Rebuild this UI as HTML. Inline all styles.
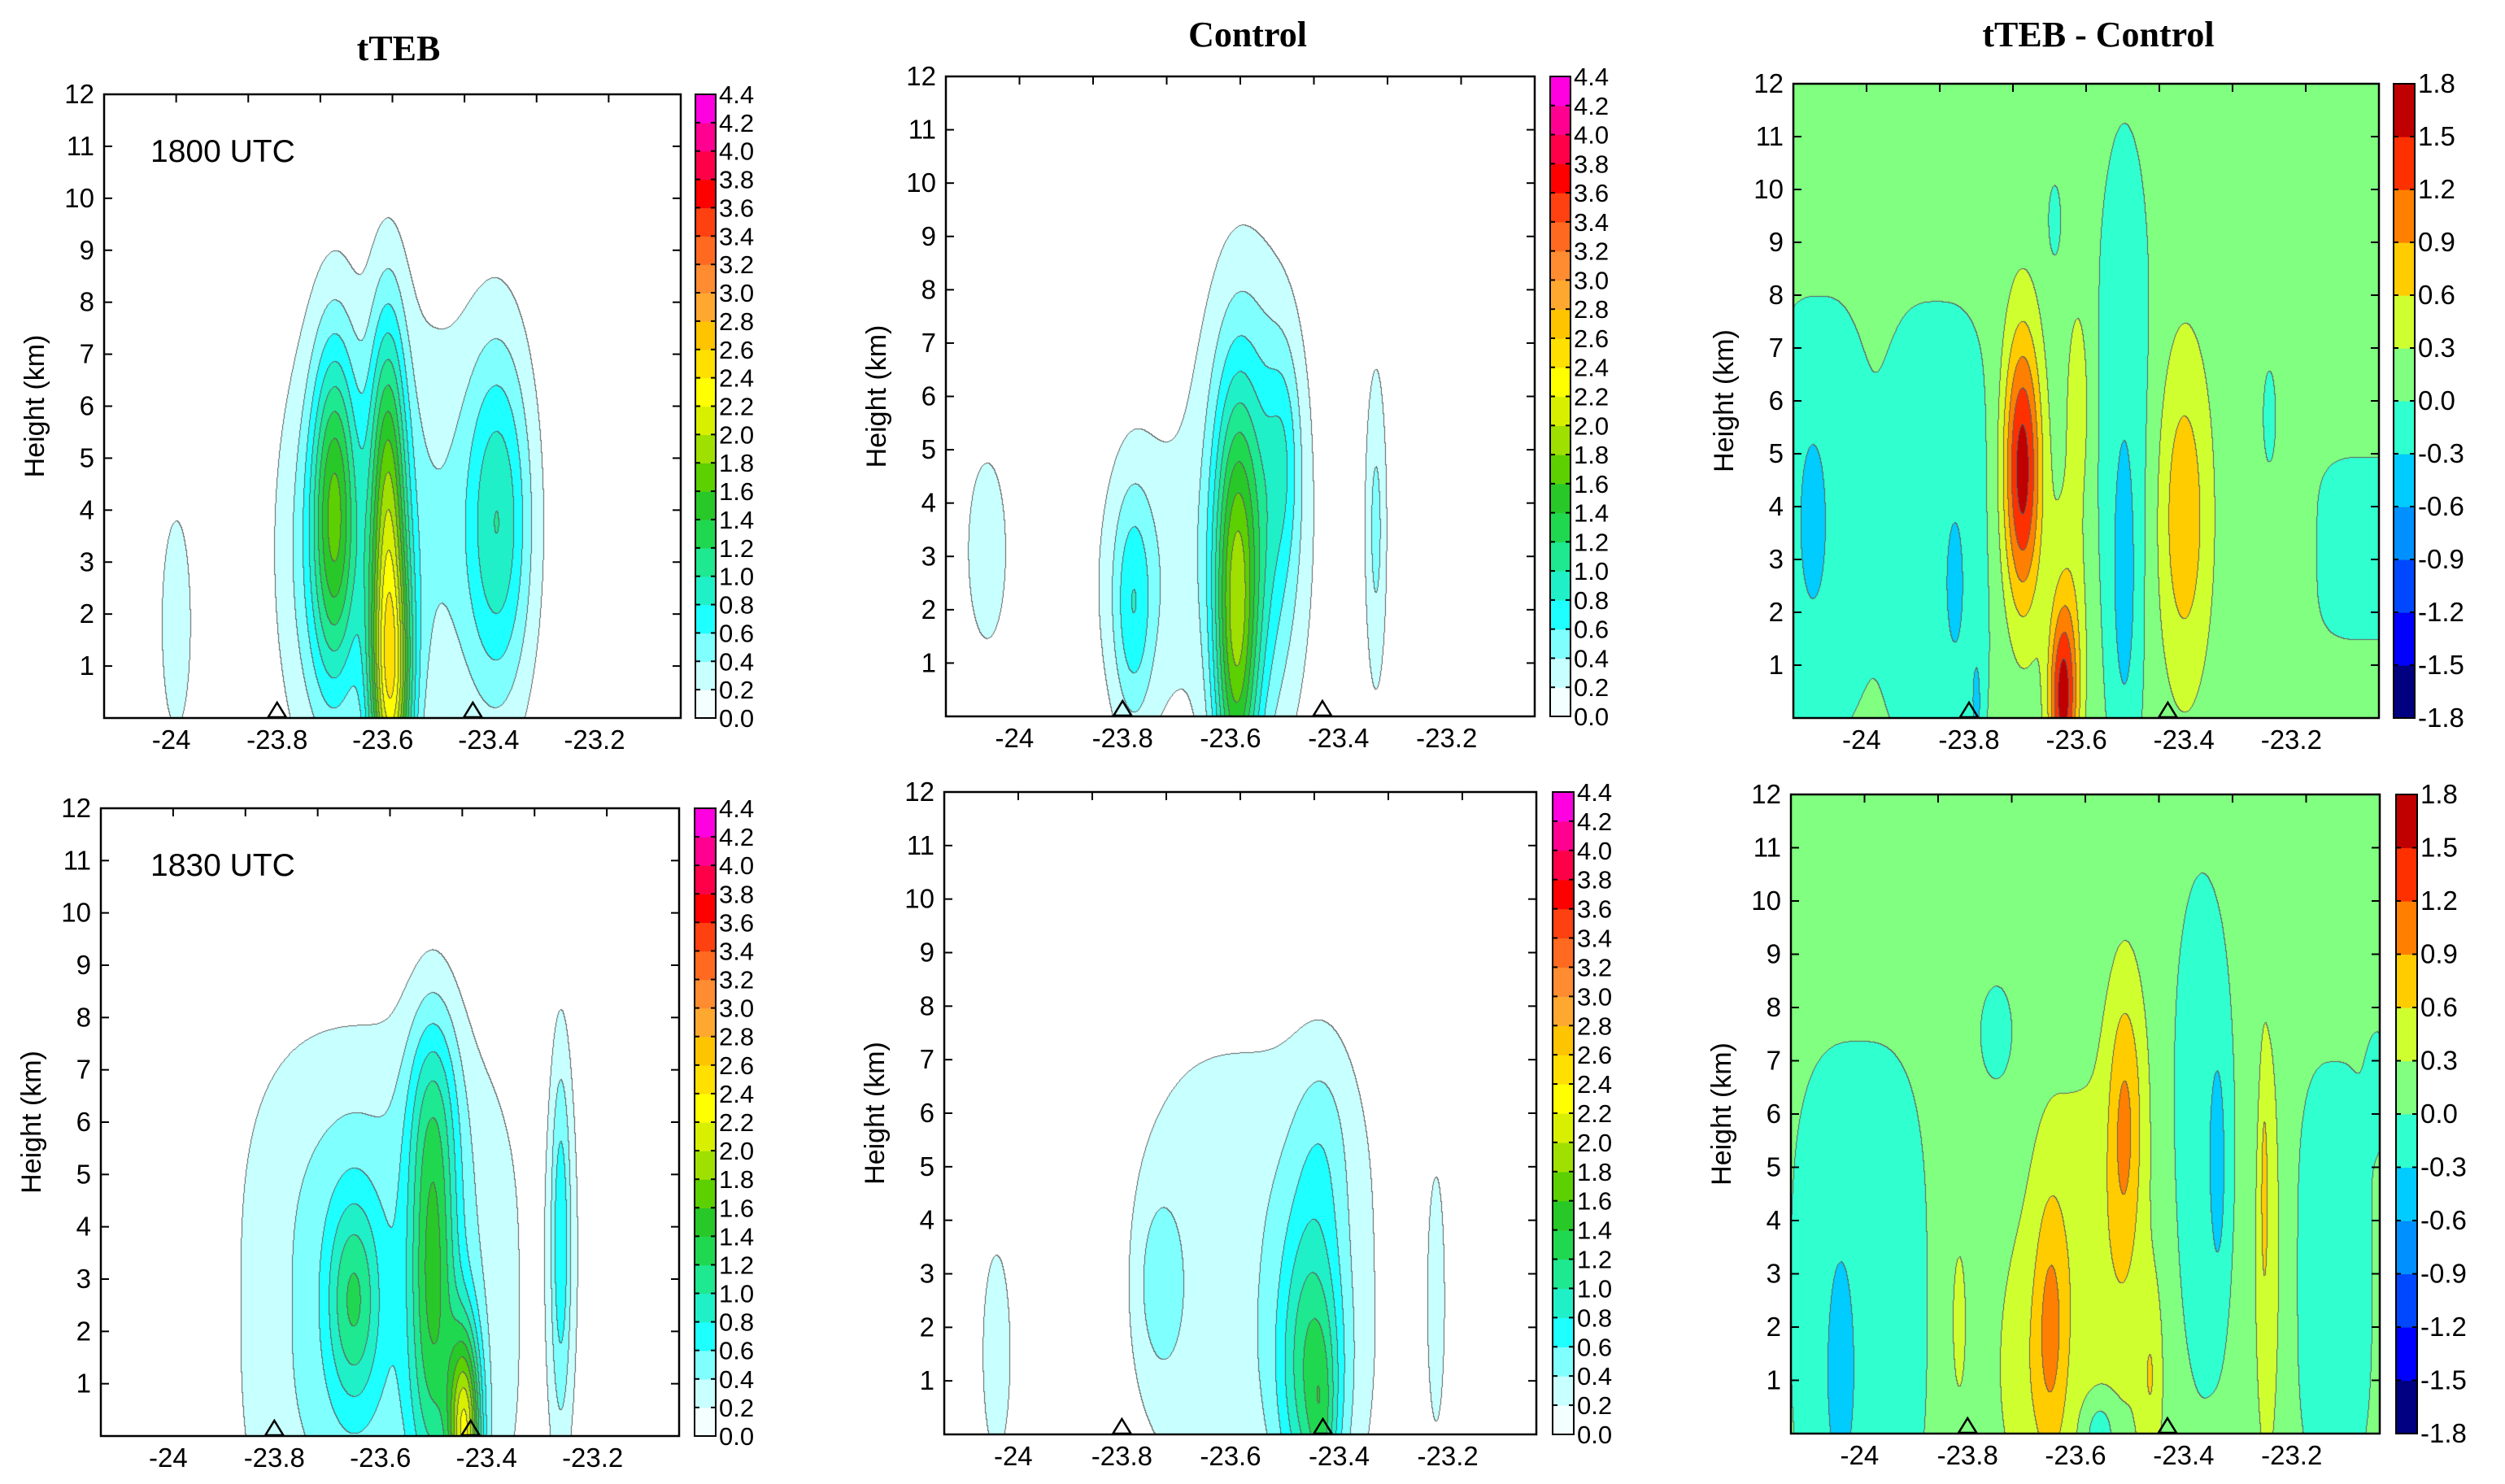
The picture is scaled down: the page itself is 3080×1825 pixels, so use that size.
<!DOCTYPE html>
<html><head><meta charset="utf-8"><style>
body{margin:0;width:3080px;height:1825px;background:#fff;position:relative;overflow:hidden;font-family:"Liberation Sans",sans-serif}
canvas{position:absolute}
svg{position:absolute;left:0;top:0}
</style></head><body>
<div id="fields"></div>
<svg id="ov" width="3080" height="1825"></svg>
<script>
// ---- axis data ----
const xTicks=[-24,-23.8,-23.6,-23.4,-23.2];
const yTicks=[1,2,3,4,5,6,7,8,9,10,11,12];
const stations=[-23.8,-23.43];
const concLevels=[0,0.2,0.4,0.6,0.8,1.0,1.2,1.4,1.6,1.8,2.0,2.2,2.4,2.6,2.8,3.0,3.2,3.4,3.6,3.8,4.0,4.2,4.4];
const concColors=['#f4ffff','#c8ffff','#80ffff','#1effff','#20f0c8','#1ee890','#20d850','#28c828','#5cd000','#a0e000','#d8f000','#ffff00','#ffe000','#ffc400','#ffa830','#ff8c30','#ff6a20','#ff4010','#ff0000','#ff0048','#ff0090','#ff00e0'];
const diffLevels=[-1.8,-1.5,-1.2,-0.9,-0.6,-0.3,0.0,0.3,0.6,0.9,1.2,1.5,1.8];
const diffColors=['#000080','#0000ff','#0048ff','#0090ff','#00ccff','#30ffd0','#80ff80','#d0ff30','#ffcc00','#ff8000','#ff3000','#c00000'];
// ---- field features: [lon, height km, lon width, height width, amplitude, shape] ----
const tteb1800=[[-23.99,1.8,0.035,2.6,0.35,2],[-23.56,3.5,0.2,4.6,0.45,2],[-23.73,3,0.07,4,0.3,2],[-23.69,4.0,0.042,3.2,1.2,2],[-23.585,0.5,0.04,2.8,1.85,2],[-23.59,4.5,0.035,3.4,1.2,2],[-23.38,3.8,0.062,3.5,0.8,2]];
const control1800=[[-24.05,3.1,0.05,2.4,0.32,2],[-23.78,2.0,0.035,2.2,0.45,2],[-23.77,2.5,0.09,3.0,0.35,2],[-23.59,1.5,0.04,4.0,1.3,2],[-23.55,3.5,0.08,4.0,0.6,2],[-23.58,4,0.12,5,0.3,2],[-23.5,5,0.03,2,0.3,2],[-23.33,3.5,0.022,3.3,0.45,2]];
const diff1800=[[-24.08,3.8,0.09,4.2,-0.32,3],[-23.86,3.5,0.11,4.5,-0.3,3],[-24.09,3.7,0.02,1.3,-0.4,2],[-23.825,2.5,0.015,1.2,-0.35,2],[-23.785,0.2,0.012,1.2,-0.35,2],[-23.70,4.7,0.035,2.6,1.55,2],[-23.595,6,0.025,2.2,0.35,2],[-23.625,0.3,0.025,1.6,1.2,2],[-23.615,1.5,0.035,2.5,0.5,2],[-23.51,5.5,0.06,6,-0.3,2],[-23.51,2.2,0.025,3,-0.35,2],[-23.40,3.8,0.05,3.2,0.7,2],[-23.05,3.2,0.1,1.7,-0.35,4],[-23.24,5.7,0.012,0.9,-0.3,2],[-23.64,9.4,0.012,0.7,-0.3,2]];
const tteb1830=[[-23.6,2.5,0.27,5.5,0.5,3],[-23.65,2.6,0.05,2.0,0.75,2],[-23.5,3.0,0.045,4.0,1.0,2],[-23.44,0.0,0.03,2.0,1.8,2],[-23.26,3.8,0.018,3.5,0.5,2],[-23.25,3.5,0.035,4.5,0.22,2],[-23.5,6.5,0.05,2,0.3,2]];
const control1830=[[-24.03,1.5,0.035,2.6,0.33,2],[-23.55,3.0,0.25,5,0.35,3],[-23.73,2.8,0.04,1.6,0.35,2],[-23.45,1.2,0.06,3.0,0.9,2],[-23.43,0,0.025,1.8,0.35,2],[-23.43,5.5,0.05,2,0.2,2],[-23.22,2.5,0.02,3,0.3,2]];
const diff1830=[[-24.0,2.5,0.13,5,-0.3,3],[-24.035,1.0,0.025,2.2,-0.35,2],[-23.815,2.1,0.012,1.3,0.45,2],[-23.745,7.5,0.03,0.9,-0.35,2],[-23.58,3.0,0.12,4.2,0.35,2],[-23.69,1.0,0.06,2.5,0.25,2],[-23.645,2.0,0.03,2.6,0.55,2],[-23.51,5.5,0.03,2.8,0.5,2],[-23.5,6.5,0.04,2.5,0.25,2],[-23.46,1.0,0.022,1.8,0.4,2],[-23.555,0,0.03,0.7,-0.5,2],[-23.365,5.5,0.06,5,-0.33,2],[-23.335,5,0.015,2.2,-0.35,2],[-23.245,3.5,0.028,5,0.35,2],[-23.25,4.6,0.006,1.8,0.35,2],[-23.12,3,0.07,4,-0.32,3],[-23.04,6.5,0.02,1,-0.3,2]];

const XMIN=-24.127,XMAX=-23.037,ZMAX=12;
const panels=[
 {name:'tteb-1800',L:128,R:837,T:116,B:883,cbL:855,cbR:880,kind:'conc',blobs:tteb1800,bg:0,label:'1800 UTC'},
 {name:'control-1800',L:1163,R:1887,T:94,B:881,cbL:1906,cbR:1931,kind:'conc',blobs:control1800,bg:0},
 {name:'diff-1800',L:2205,R:2925,T:103,B:883,cbL:2943,cbR:2969,kind:'diff',blobs:diff1800,bg:0.12},
 {name:'tteb-1830',L:124,R:835,T:994,B:1766,cbL:854,cbR:880,kind:'conc',blobs:tteb1830,bg:0,label:'1830 UTC'},
 {name:'control-1830',L:1161,R:1889,T:974,B:1764,cbL:1909,cbR:1935,kind:'conc',blobs:control1830,bg:0},
 {name:'diff-1830',L:2202,R:2926,T:977,B:1763,cbL:2946,cbR:2972,kind:'diff',blobs:diff1830,bg:0.12}
];
const titles=[['tTEB',490,74],['Control',1534,57],['tTEB - Control',2580,57]];

function xS(p,lon){return p.L+(lon-XMIN)/(XMAX-XMIN)*(p.R-p.L);}
function yS(p,z){return p.B-z/ZMAX*(p.B-p.T);}
function hex(c){return [parseInt(c.substr(1,2),16),parseInt(c.substr(3,2),16),parseInt(c.substr(5,2),16)];}
const NS='http://www.w3.org/2000/svg';
const ov=document.getElementById('ov');
function el(tag,attrs,parent,txt){const e=document.createElementNS(NS,tag);for(const k in attrs)e.setAttribute(k,attrs[k]);if(txt!==undefined)e.textContent=txt;(parent||ov).appendChild(e);return e;}

function render(p){
  const W=p.R-p.L,H=p.B-p.T;
  const cv=document.createElement('canvas');
  
  
  cv.width=W;cv.height=H;cv.style.left=p.L+'px';cv.style.top=p.T+'px';
  document.getElementById('fields').appendChild(cv);
  const ctx=cv.getContext('2d');const img=ctx.createImageData(W,H);
  const levels=p.kind==='conc'?concLevels:diffLevels;
  const cols=(p.kind==='conc'?concColors:diffColors).map(hex);
  if(p.kind==='conc')cols[0]=[255,255,255];
  const bins=new Int16Array(W*H);
  for(let j=0;j<H;j++){
    const z=(H-j-0.5)/H*ZMAX;
    for(let i=0;i<W;i++){
      const lon=XMIN+(i+0.5)/W*(XMAX-XMIN);
      let v=p.bg;
      for(const b of p.blobs){
        const dx=Math.abs((lon-b[0])/b[2]),dz=Math.abs((z-b[1])/b[3]);
        const e=b[5]===2?dx*dx+dz*dz:Math.pow(dx,b[5])+Math.pow(dz,b[5]);
        if(e<12)v+=b[4]*Math.exp(-e);
      }
      let k=0;while(k<levels.length-2&&v>=levels[k+1])k++;
      bins[j*W+i]=k;
    }
  }
  for(let j=0;j<H;j++)for(let i=0;i<W;i++){
    const id=j*W+i,k=bins[id];
    let line=(i<W-1&&bins[id+1]!==k)||(j<H-1&&bins[id+W]!==k);
    const c=line?[96,96,96]:cols[k];
    img.data[id*4]=c[0];img.data[id*4+1]=c[1];img.data[id*4+2]=c[2];img.data[id*4+3]=255;
  }
  ctx.putImageData(img,0,0);
}

function axes(p){
  const g=el('g',{});
  el('rect',{x:p.L,y:p.T,width:p.R-p.L,height:p.B-p.T,fill:'none',stroke:'#000','stroke-width':2.5,},g);
  for(const z of yTicks){
    const y=yS(p,z);
    el('line',{x1:p.L,x2:p.L+10,y1:y,y2:y,stroke:'#000','stroke-width':2},g);
    el('line',{x1:p.R,x2:p.R-10,y1:y,y2:y,stroke:'#000','stroke-width':2},g);
    el('text',{x:p.L-12,y:y+11,'text-anchor':'end','font-size':33,},g,String(z));
  }
  for(let f=1;f<8;f++){const x=p.L+f*(p.R-p.L)/8;el('line',{x1:x,x2:x,y1:p.T,y2:p.T+10,stroke:'#000','stroke-width':2},g);}
  for(const t of xTicks){
    el('text',{x:xS(p,t),y:p.B+38,'text-anchor':'middle','font-size':33,},g,String(t));
  }
  const cy=(p.T+p.B)/2,cx=p.L-74;
  el('text',{x:cx,y:cy,transform:'rotate(-90 '+cx+' '+cy+')','text-anchor':'middle','font-size':34,},g,'Height (km)');
  for(const s of stations){
    const x=xS(p,s);
    el('polygon',{points:(x-11)+','+(p.B-1)+' '+(x+11)+','+(p.B-1)+' '+x+','+(p.B-19),fill:'none',stroke:'#000','stroke-width':2.5,},g);
  }
  if(p.label)el('text',{x:185,y:p.T+83,'font-size':39,},g,p.label);
  const cb=el('g',{},g);
  const levels=p.kind==='conc'?concLevels:diffLevels,cols=p.kind==='conc'?concColors:diffColors;
  const n=cols.length,bh=(p.B-p.T)/n;
  for(let k=0;k<n;k++){
    el('rect',{x:p.cbL,y:p.B-(k+1)*bh,width:p.cbR-p.cbL,height:bh+0.6,fill:cols[k],},cb);
  }
  el('rect',{x:p.cbL,y:p.T,width:p.cbR-p.cbL,height:p.B-p.T,fill:'none',stroke:'#000','stroke-width':2},cb);
  const fs=p.kind==='conc'?31:33;
  for(let k=0;k<levels.length;k++){
    const y=p.B-k*bh;
    if(k>0&&k<levels.length-1){
      el('line',{x1:p.cbL,x2:p.cbL+6,y1:y,y2:y,stroke:'#000','stroke-width':2},cb);
      el('line',{x1:p.cbR,x2:p.cbR-6,y1:y,y2:y,stroke:'#000','stroke-width':2},cb);
    }
    el('text',{x:p.cbR+4,y:y+11,'font-size':fs,},cb,levels[k].toFixed(1));
  }
}

for(const t of titles){
  el('text',{x:t[1],y:t[2],'text-anchor':'middle','font-size':44,'font-weight':'bold','font-family':'"Liberation Serif",serif',},ov,t[0]);
}
for(const p of panels){render(p);axes(p);}
</script>
</body></html>
